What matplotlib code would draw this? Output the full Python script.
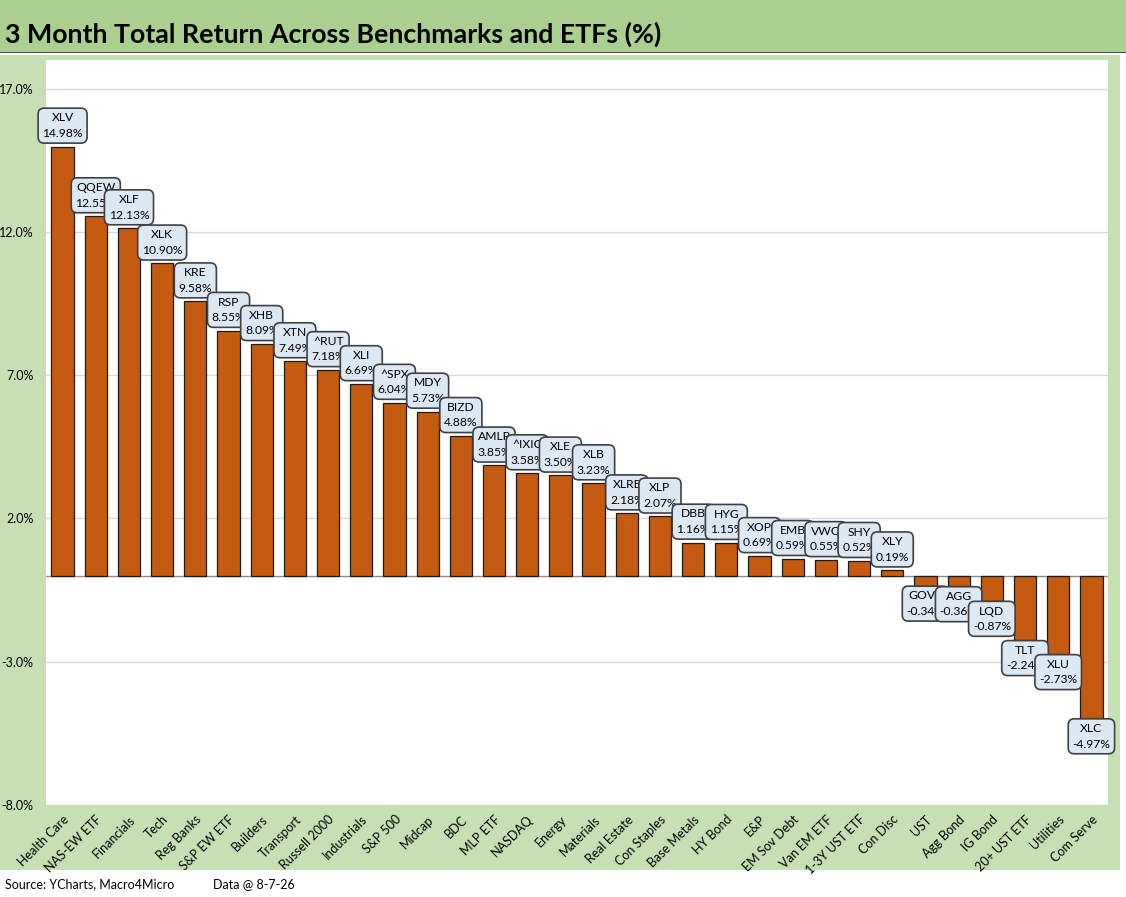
import matplotlib
matplotlib.use("Agg")
import matplotlib.pyplot as plt
from matplotlib.patches import Rectangle
from matplotlib.ticker import FuncFormatter

plt.rcParams["font.family"] = ["Lato", "DejaVu Sans"]

# 3-month total returns (%), sorted high to low
categories = [
    "Health Care", "NAS-EW ETF", "Financials", "Tech", "Reg Banks", "S&P EW ETF",
    "Builders", "Transport", "Russell 2000", "Industrials", "S&P 500", "Midcap",
    "BDC", "MLP ETF", "NASDAQ", "Energy", "Materials", "Real Estate",
    "Con Staples", "Base Metals", "HY Bond", "E&P", "EM Sov Debt", "Van EM ETF",
    "1-3Y UST ETF", "Con Disc", "UST", "Agg Bond", "IG Bond", "20+ UST ETF",
    "Utilities", "Com Serve",
]
tickers = [
    "XLV", "QQEW", "XLF", "XLK", "KRE", "RSP", "XHB", "XTN", "^RUT", "XLI",
    "^SPX", "MDY", "BIZD", "AMLP", "^IXIC", "XLE", "XLB", "XLRE", "XLP", "DBB",
    "HYG", "XOP", "EMB", "VWO", "SHY", "XLY", "GOVT", "AGG", "LQD", "TLT",
    "XLU", "XLC",
]
returns = [
    14.98, 12.55, 12.13, 10.90, 9.58, 8.55, 8.09, 7.49, 7.18, 6.69, 6.04, 5.73,
    4.88, 3.85, 3.58, 3.50, 3.23, 2.18, 2.07, 1.16, 1.15, 0.69, 0.59, 0.55,
    0.52, 0.19, -0.34, -0.36, -0.87, -2.24, -2.73, -4.97,
]
y_ticks = [-8.0, -3.0, 2.0, 7.0, 12.0, 17.0]

BAR = "#C55A11"
TITLE_GREEN = "#A9D08E"
PANEL_GREEN = "#C6E0B4"
BOX_FACE = "#DDE8F5"

W, H = 1126, 897
fig = plt.figure(figsize=(W / 100, H / 100), dpi=100)
fig.patch.set_facecolor("white")

# background panels
fig.patches.append(Rectangle((0, 1 - 52 / H), 1, 52 / H, transform=fig.transFigure,
                             facecolor=TITLE_GREEN, edgecolor="none", zorder=0))
fig.patches.append(Rectangle((0, 1 - 53 / H), 1, 1.2 / H, transform=fig.transFigure,
                             facecolor="#4a4a4a", edgecolor="none", zorder=1))
fig.patches.append(Rectangle((0, 1 - 870 / H), 1120 / W, (870 - 55) / H,
                             transform=fig.transFigure, facecolor=PANEL_GREEN,
                             edgecolor="none", zorder=0))

fig.text(5 / W, 1 - 34 / H, "3 Month Total Return Across Benchmarks and ETFs (%)",
         fontsize=19.3, fontweight="bold", va="center", ha="left")
fig.text(5 / W, 1 - 884 / H, "Source: YCharts, Macro4Micro", fontsize=9,
         va="center", ha="left")
fig.text(213 / W, 1 - 884 / H, "Data @ 8-7-26", fontsize=9, va="center", ha="left")

ax = fig.add_axes([46 / W, 1 - 805 / H, (1108 - 46) / W, (805 - 60) / H])
ax.set_zorder(3)
ax.set_facecolor("white")

x = list(range(len(categories)))
ax.bar(x, returns, width=0.67, color=BAR, edgecolor="#1a1a1a", linewidth=0.9, zorder=3)

ax.set_xlim(-0.5, len(categories) - 0.5)
ax.set_ylim(-8, 18)
ax.set_yticks(y_ticks)
ax.yaxis.set_major_formatter(FuncFormatter(lambda v, _: f"{v:.1f}%"))
ax.grid(axis="y", color="#d9d9d9", linewidth=1, zorder=0)
ax.axhline(0, color="#8c8c8c", linewidth=1, zorder=2)
for s in ax.spines.values():
    s.set_visible(False)
ax.tick_params(axis="both", length=0, labelsize=9)
ax.tick_params(axis="y", pad=9)
ax.set_xticks(x)
ax.set_xticklabels(categories, rotation=45, ha="right", rotation_mode="anchor", fontsize=9)
ax.tick_params(axis="x", pad=6)

for i, (t, v) in enumerate(zip(tickers, returns)):
    off = 5.5 if v >= 0 else -3.5
    ax.annotate(f"{t}\n{v:.2f}%", xy=(i, v), xytext=(0, off), textcoords="offset points",
                ha="center", va="bottom" if v >= 0 else "top", fontsize=8.7,
                linespacing=1.5, zorder=10 + i,
                bbox=dict(boxstyle="round,pad=0.35,rounding_size=0.5",
                          facecolor=BOX_FACE, edgecolor="#404040", linewidth=1.2))

fig.savefig("out.png", dpi=100)
